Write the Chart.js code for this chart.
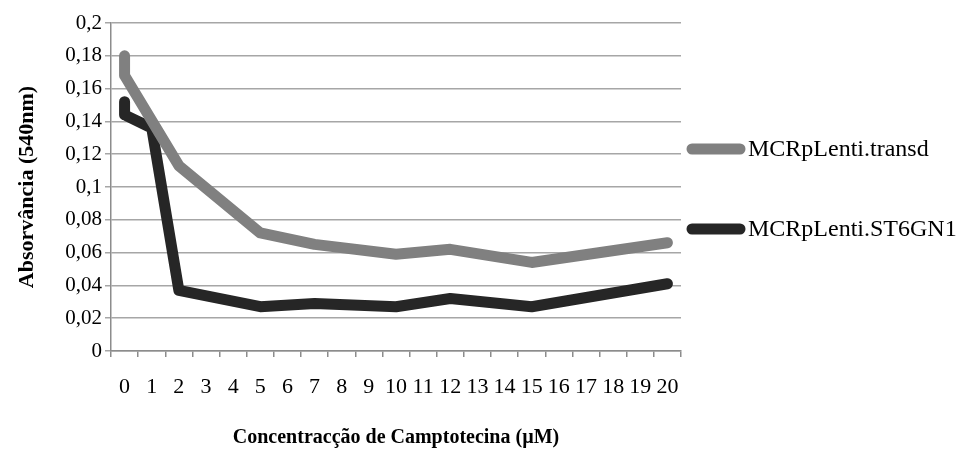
<!DOCTYPE html>
<html>
<head>
<meta charset="utf-8">
<script src="https://cdn.jsdelivr.net/npm/chart.js@4/dist/chart.umd.min.js"></script>
<style>
  html, body { margin: 0; padding: 0; background: #ffffff; }
  #wrap { width: 960px; height: 450px; position: relative; }
</style>
</head>
<body>
<div id="wrap"><canvas id="chart"></canvas></div>
<script>
// Camptothecin concentration categories (µM) shown on the x axis
const doseLabels = ['0','1','2','3','4','5','6','7','8','9','10','11','12','13','14','15','16','17','18','19','20'];

// Absorbance at 540 nm, MCRpLenti.transd (two readings at 0 µM)
const transdDoses = [0, 0, 2, 5, 7, 10, 12, 15, 20];
const transdAbs   = [0.180, 0.168, 0.113, 0.072, 0.065, 0.059, 0.062, 0.054, 0.066];

// Absorbance at 540 nm, MCRpLenti.ST6GN1 (two readings at 0 µM)
const st6Doses = [0, 0, 1, 2, 5, 7, 10, 12, 15, 20];
const st6Abs   = [0.152, 0.144, 0.136, 0.037, 0.027, 0.029, 0.027, 0.032, 0.027, 0.041];

const seriesNames  = ['MCRpLenti.transd', 'MCRpLenti.ST6GN1'];
const seriesColors = ['#808080', '#262626'];

const FAMILY = "'Liberation Serif', 'Times New Roman', serif";

function toPoints(doses, values) {
  return doses.map((d, i) => ({ x: String(d), y: values[i] }));
}

function formatAbs(v) {
  const r = Math.round(v * 1000) / 1000;
  return String(r).replace('.', ',');
}

// Legend on the right: a thick rounded stroke followed by the series name
const sideLegend = {
  id: 'sideLegend',
  afterDraw(chart, args, opts) {
    const ctx = chart.ctx;
    const area = chart.chartArea;
    const sets = chart.data.datasets;
    const mid = (area.top + area.bottom) / 2 + opts.shift;
    ctx.save();
    ctx.font = opts.fontSize + 'px ' + FAMILY;
    ctx.textBaseline = 'middle';
    ctx.textAlign = 'left';
    sets.forEach((ds, i) => {
      const y = mid + (i - (sets.length - 1) / 2) * opts.spacing;
      ctx.beginPath();
      ctx.lineCap = 'round';
      ctx.lineWidth = ds.borderWidth;
      ctx.strokeStyle = ds.borderColor;
      ctx.moveTo(area.right + opts.lineStart, y);
      ctx.lineTo(area.right + opts.lineEnd, y);
      ctx.stroke();
      ctx.fillStyle = '#000000';
      ctx.fillText(ds.label, area.right + opts.textStart, y + 1);
    });
    ctx.restore();
  }
};

new Chart(document.getElementById('chart'), {
  type: 'line',
  data: {
    labels: doseLabels,
    datasets: [
      {
        label: seriesNames[0],
        data: toPoints(transdDoses, transdAbs),
        borderColor: seriesColors[0],
        backgroundColor: seriesColors[0],
        borderWidth: 11,
        borderCapStyle: 'round',
        borderJoinStyle: 'round',
        pointRadius: 0,
        tension: 0,
        fill: false
      },
      {
        label: seriesNames[1],
        data: toPoints(st6Doses, st6Abs),
        borderColor: seriesColors[1],
        backgroundColor: seriesColors[1],
        borderWidth: 11,
        borderCapStyle: 'round',
        borderJoinStyle: 'round',
        pointRadius: 0,
        tension: 0,
        fill: false
      }
    ]
  },
  options: {
    responsive: true,
    maintainAspectRatio: false,
    animation: false,
    devicePixelRatio: 1,
    layout: { padding: { top: 23, right: 279, bottom: 0, left: 0 } },
    plugins: {
      legend: { display: false },
      tooltip: { enabled: false },
      sideLegend: { spacing: 80, shift: 2, lineStart: 11, lineEnd: 59, textStart: 67, fontSize: 24 }
    },
    scales: {
      x: {
        type: 'category',
        offset: true,
        grid: {
          offset: true,
          drawOnChartArea: false,
          drawTicks: true,
          tickLength: 6,
          color: '#8c8c8c',
          lineWidth: 1.5
        },
        border: { color: '#8c8c8c', width: 1.5 },
        ticks: {
          autoSkip: false,
          maxRotation: 0,
          padding: 17,
          color: '#000000',
          font: { family: FAMILY, size: 22 }
        },
        title: {
          display: true,
          text: 'Concentracção de Camptotecina (µM)',
          color: '#000000',
          font: { family: FAMILY, size: 20, weight: 'bold' },
          padding: { top: 0, bottom: 0 }
        },
        afterFit(scale) { scale.height = 99; }
      },
      y: {
        min: 0,
        max: 0.2,
        ticks: {
          stepSize: 0.02,
          padding: 3,
          color: '#000000',
          font: { family: FAMILY, size: 21 },
          callback: (v) => formatAbs(v)
        },
        grid: {
          color: '#a6a6a6',
          lineWidth: 1.5,
          tickLength: 6
        },
        border: { color: '#8c8c8c', width: 1.5 },
        title: {
          display: true,
          text: 'Absorvância (540nm)',
          color: '#000000',
          font: { family: FAMILY, size: 22, weight: 'bold' },
          padding: { top: 14, bottom: 0 }
        },
        afterFit(scale) { scale.width = 111; }
      }
    }
  },
  plugins: [sideLegend]
});
</script>
</body>
</html>
